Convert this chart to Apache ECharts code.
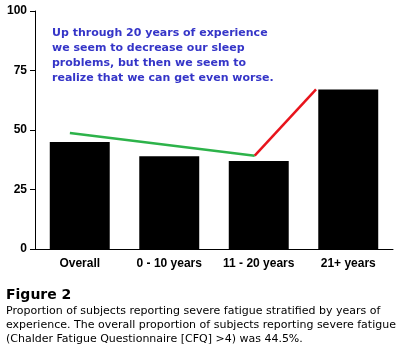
<!DOCTYPE html>
<html>
<head>
<meta charset="utf-8">
<script src="https://cdn.jsdelivr.net/npm/echarts@6/dist/echarts.min.js"></script>
<style>
  html, body { margin: 0; padding: 0; background: #fff; }
  #chart { width: 400px; height: 350px; }
</style>
</head>
<body>
<div id="chart"></div>
<script>
  const categories = ['Overall', '0 - 10 years', '11 - 20 years', '21+ years']
  const fatigue = [45, 39, 37, 67]
  const yTicks = [0, 25, 50, 75, 100]
  // trend lines, x in category-index units
  const greenLine = [[-0.11, 48.7], [1.955, 39.2]]
  const redLine = [[1.955, 39.2], [2.64, 67.1]]

  const note = 'Up through 20 years of experience\nwe seem to decrease our sleep\nproblems, but then we seem to\nrealize that we can get even worse.'
  const caption = 'Proportion of subjects reporting severe fatigue stratified by years of\nexperience. The overall proportion of subjects reporting severe fatigue\n(Chalder Fatigue Questionnaire [CFQ] >4) was 44.5%.'

  const chart = echarts.init(document.getElementById('chart'))
  const option = {
    animation: false,
    backgroundColor: '#fff',
    grid: { left: 35, right: 7, top: 11, bottom: 101 },
    title: [
      {
        text: note, left: 52, top: 26, padding: 0,
        textStyle: { fontFamily: 'DejaVu Sans', fontWeight: 'bold', fontSize: 11, color: '#3535c8', lineHeight: 15 }
      },
      {
        text: 'Figure 2', left: 6, top: 288, padding: 0,
        textStyle: { fontFamily: 'DejaVu Sans', fontWeight: 'bold', fontSize: 14, color: '#000' }
      },
      {
        text: caption, left: 6, top: 304, padding: 0,
        textStyle: { fontFamily: 'DejaVu Sans', fontWeight: 'normal', fontSize: 11, color: '#000', lineHeight: 14 }
      }
    ],
    xAxis: [
      {
        type: 'category', data: categories,
        axisLine: { lineStyle: { color: '#000', width: 1 } },
        axisTick: { show: false },
        axisLabel: { interval: 0, color: '#000', fontFamily: 'Liberation Sans', fontWeight: 'bold', fontSize: 12, margin: 9 }
      },
      { type: 'value', min: -0.5, max: 3.5, show: false }
    ],
    yAxis: {
      type: 'value', min: 0, max: 100, interval: 25,
      splitLine: { show: false },
      axisLine: { show: true, onZero: false, lineStyle: { color: '#000', width: 1 } },
      axisTick: { show: true, length: 5, lineStyle: { color: '#000' } },
      axisLabel: {
        color: '#000', fontFamily: 'Liberation Sans', fontWeight: 'bold', fontSize: 12, margin: 8,
        formatter: v => yTicks.includes(v) ? String(v) : ''
      }
    },
    series: [
      {
        type: 'bar', data: fatigue, barWidth: '67%',
        itemStyle: { color: '#000' }
      },
      {
        type: 'line', xAxisIndex: 1, data: greenLine, symbol: 'none',
        lineStyle: { color: '#2db34a', width: 2.5 }
      },
      {
        type: 'line', xAxisIndex: 1, data: redLine, symbol: 'none',
        lineStyle: { color: '#e8141c', width: 2.5 }
      }
    ]
  }
  chart.setOption(option)
</script>
</body>
</html>
